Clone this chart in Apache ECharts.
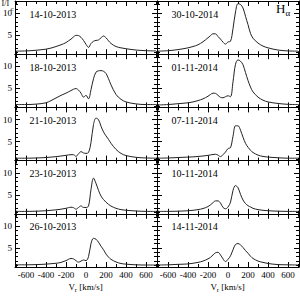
<!DOCTYPE html>
<html><head><meta charset="utf-8">
<script src="https://cdn.jsdelivr.net/npm/echarts@6/dist/echarts.min.js"></script>
<style>html,body{margin:0;padding:0;background:#fff}#c{width:300px;height:300px}</style>
</head><body><div id="c"></div>
<script>
// radial velocity grid (km/s)
const velocity = [-700,-600,-500,-400,-350,-300,-250,-200,-175,-150,-125,-100,-75,-50,-25,0,25,50,75,100,125,150,175,200,225,250,300,350,400,500,600,700];
const dates = ['14-10-2013','18-10-2013','21-10-2013','23-10-2013','26-10-2013','30-10-2014','01-11-2014','07-11-2014','10-11-2014','14-11-2014'];
// normalized intensity I/Ic per date
const prof_14_10_2013 = [1.35,1.4,1.55,1.8,2.05,2.4,2.8,3.3,3.7,4.1,4.6,4.95,4.9,4.5,3.8,2.9,2.2,3.1,3.6,3.8,3.9,4.4,4.8,4.4,3.7,3.1,2.4,2.1,1.9,1.6,1.45,1.4];
const prof_18_10_2013 = [1.3,1.3,1.4,1.7,2.2,2.8,3.4,3.9,4.2,4.5,4.8,4.95,4.6,3.9,3.0,3.4,2.6,4.7,7.2,8.7,9.0,9.05,8.9,8.4,7.2,5.8,3.6,2.5,1.9,1.45,1.3,1.3];
const prof_21_10_2013 = [1.2,1.2,1.25,1.35,1.45,1.55,1.7,1.85,1.95,2.0,2.0,1.6,2.2,2.7,2.4,2.3,2.5,4.8,8.9,10.35,10.0,8.5,7.2,6.3,5.5,4.6,3.2,2.3,1.8,1.4,1.25,1.2];
const prof_23_10_2013 = [1.2,1.2,1.25,1.35,1.45,1.55,1.7,1.9,2.05,2.15,2.05,1.7,2.1,2.45,2.1,2.1,2.4,6.2,8.8,7.6,6.0,4.7,3.9,3.3,2.8,2.4,1.9,1.6,1.45,1.3,1.2,1.2];
const prof_26_10_2013 = [1.15,1.15,1.2,1.3,1.4,1.5,1.7,2.1,2.4,2.6,2.5,2.1,1.75,2.0,2.25,2.1,3.0,6.0,7.2,7.0,6.3,5.4,4.6,3.6,2.9,2.4,1.8,1.45,1.3,1.15,1.1,1.1];
const prof_30_10_2014 = [1.35,1.45,1.7,2.1,2.4,2.8,3.5,4.4,4.9,5.3,5.3,4.7,4.1,3.4,2.95,3.45,3.6,6.5,10.3,12.2,12.0,11.2,9.3,7.4,5.4,4.3,3.2,2.5,2.1,1.6,1.4,1.35];
const prof_01_11_2014 = [1.2,1.3,1.5,1.7,1.9,2.2,2.6,3.2,3.6,3.9,3.85,3.4,2.95,2.85,3.1,3.3,3.1,6.5,10.5,11.5,11.2,10.4,8.6,6.8,5.3,4.2,3.0,2.3,1.9,1.55,1.35,1.3];
const prof_07_11_2014 = [1.2,1.25,1.35,1.45,1.5,1.6,1.7,1.85,1.95,2.05,2.1,1.9,1.55,2.0,2.6,3.4,3.6,6.2,8.6,8.6,7.6,6.0,4.6,3.7,3.0,2.5,1.9,1.6,1.45,1.3,1.2,1.2];
const prof_10_11_2014 = [1.2,1.2,1.25,1.35,1.45,1.6,1.85,2.3,2.7,3.2,3.6,3.6,3.1,2.1,1.8,2.2,3.3,6.0,7.1,6.6,5.1,3.8,3.0,2.5,2.2,1.9,1.6,1.45,1.35,1.25,1.2,1.2];
const prof_14_11_2014 = [1.1,1.15,1.25,1.35,1.5,1.7,2.0,2.5,2.85,3.4,3.9,4.0,3.4,2.5,1.9,2.4,3.2,4.6,5.8,6.0,5.7,5.1,4.4,3.8,3.1,2.6,2.0,1.7,1.45,1.2,1.15,1.1];
const profiles = [prof_14_10_2013,prof_18_10_2013,prof_21_10_2013,prof_23_10_2013,prof_26_10_2013,
                  prof_30_10_2014,prof_01_11_2014,prof_07_11_2014,prof_10_11_2014,prof_14_11_2014];
const xTickLabels = [-600,-400,-200,0,200,400,600];
const xMinorTicks = [-700,-600,-500,-400,-300,-200,-100,0,100,200,300,400,500,600,700];
const yTickLabels = [5,10];
const yMinorTicks = [1,2,3,4,5,6,7,8,9,10,11,12];

const FONT = 'Liberation Serif';
const X_MIN = -710, X_MAX = 710, Y_MIN = 0.65, Y_MAX = 12.8;
const PANEL_H = 53.2, PANEL_W = 142, LEFTS = [15, 157], TOP0 = 1;

const grid = [], xAxis = [], yAxis = [], series = [], graphic = [];
const black = '#000';
function xAx(g, pos, ticks, len, line, labels) {
  return {gridIndex: g, type: 'value', position: pos, min: X_MIN, max: X_MAX,
    axisLine: {show: line, onZero: false, lineStyle: {color: black, width: 1}},
    axisTick: {show: true, inside: true, length: len, customValues: ticks, lineStyle: {color: black, width: 1}},
    axisLabel: {show: labels, customValues: xTickLabels, margin: 3, color: black, fontFamily: FONT, fontSize: 9},
    splitLine: {show: false}};
}
function yAx(g, pos, ticks, len, line, labels) {
  return {gridIndex: g, type: 'value', position: pos, min: Y_MIN, max: Y_MAX,
    axisLine: {show: line, onZero: false, lineStyle: {color: black, width: 1}},
    axisTick: {show: true, inside: true, length: len, customValues: ticks, lineStyle: {color: black, width: 1}},
    axisLabel: {show: labels, customValues: yTickLabels, margin: 3, color: black, fontFamily: FONT, fontSize: 9},
    splitLine: {show: false}};
}
function txt(left, top, text, size) {
  return {type: 'text', left: left, top: top,
    style: {text: text, fill: black, font: size + 'px "Liberation Serif"'}};
}
for (let i = 0; i < 10; i++) {
  const col = Math.floor(i / 5), row = i % 5;
  const top = TOP0 + row * PANEL_H;
  const rect = {left: LEFTS[col], top: top, width: PANEL_W, height: PANEL_H, show: false};
  grid.push(Object.assign({}, rect));
  grid.push(Object.assign({}, rect));
  const gM = 2 * i, gm = 2 * i + 1;
  xAxis.push(xAx(gM, 'bottom', xTickLabels, 5, true, row === 4));
  xAxis.push(xAx(gM, 'top', xTickLabels, 5, true, false));
  xAxis.push(xAx(gm, 'bottom', xMinorTicks, 3, false, false));
  xAxis.push(xAx(gm, 'top', xMinorTicks, 3, false, false));
  yAxis.push(yAx(gM, 'left', yTickLabels, 5, true, col === 0));
  yAxis.push(yAx(gM, 'right', yTickLabels, 5, true, false));
  yAxis.push(yAx(gm, 'left', yMinorTicks, 3, false, false));
  yAxis.push(yAx(gm, 'right', yMinorTicks, 3, false, false));
  series.push({type: 'line', xAxisIndex: 4 * i, yAxisIndex: 4 * i,
    data: velocity.map((v, k) => [v, profiles[i][k]]),
    showSymbol: false, smooth: 0.35, silent: true,
    lineStyle: {color: '#222', width: 1}});
  graphic.push(txt(LEFTS[col] + 14.5, top + 8, dates[i], 10));
}
// axis titles: V_r [km/s]
[86, 228].forEach(cx => {
  const x0 = cx - 17.5;
  graphic.push(txt(x0, 282, 'V', 9));
  graphic.push(txt(x0 + 6.3, 285.5, 'r', 6.5));
  graphic.push(txt(x0 + 8.6, 282, ' [km/s]', 9));
});
// I/Ic
graphic.push(txt(1.5, -1, 'I/I', 8));
graphic.push(txt(10.5, 5, 'c', 7));
// H alpha
graphic.push(txt(276, 1.5, 'H', 13));
graphic.push(txt(285.5, 8, 'α', 9));

const chart = echarts.init(document.getElementById('c'), null, {renderer: 'svg'});
chart.setOption({animation: false, backgroundColor: '#fff', grid, xAxis, yAxis, series, graphic});
</script></body></html>
